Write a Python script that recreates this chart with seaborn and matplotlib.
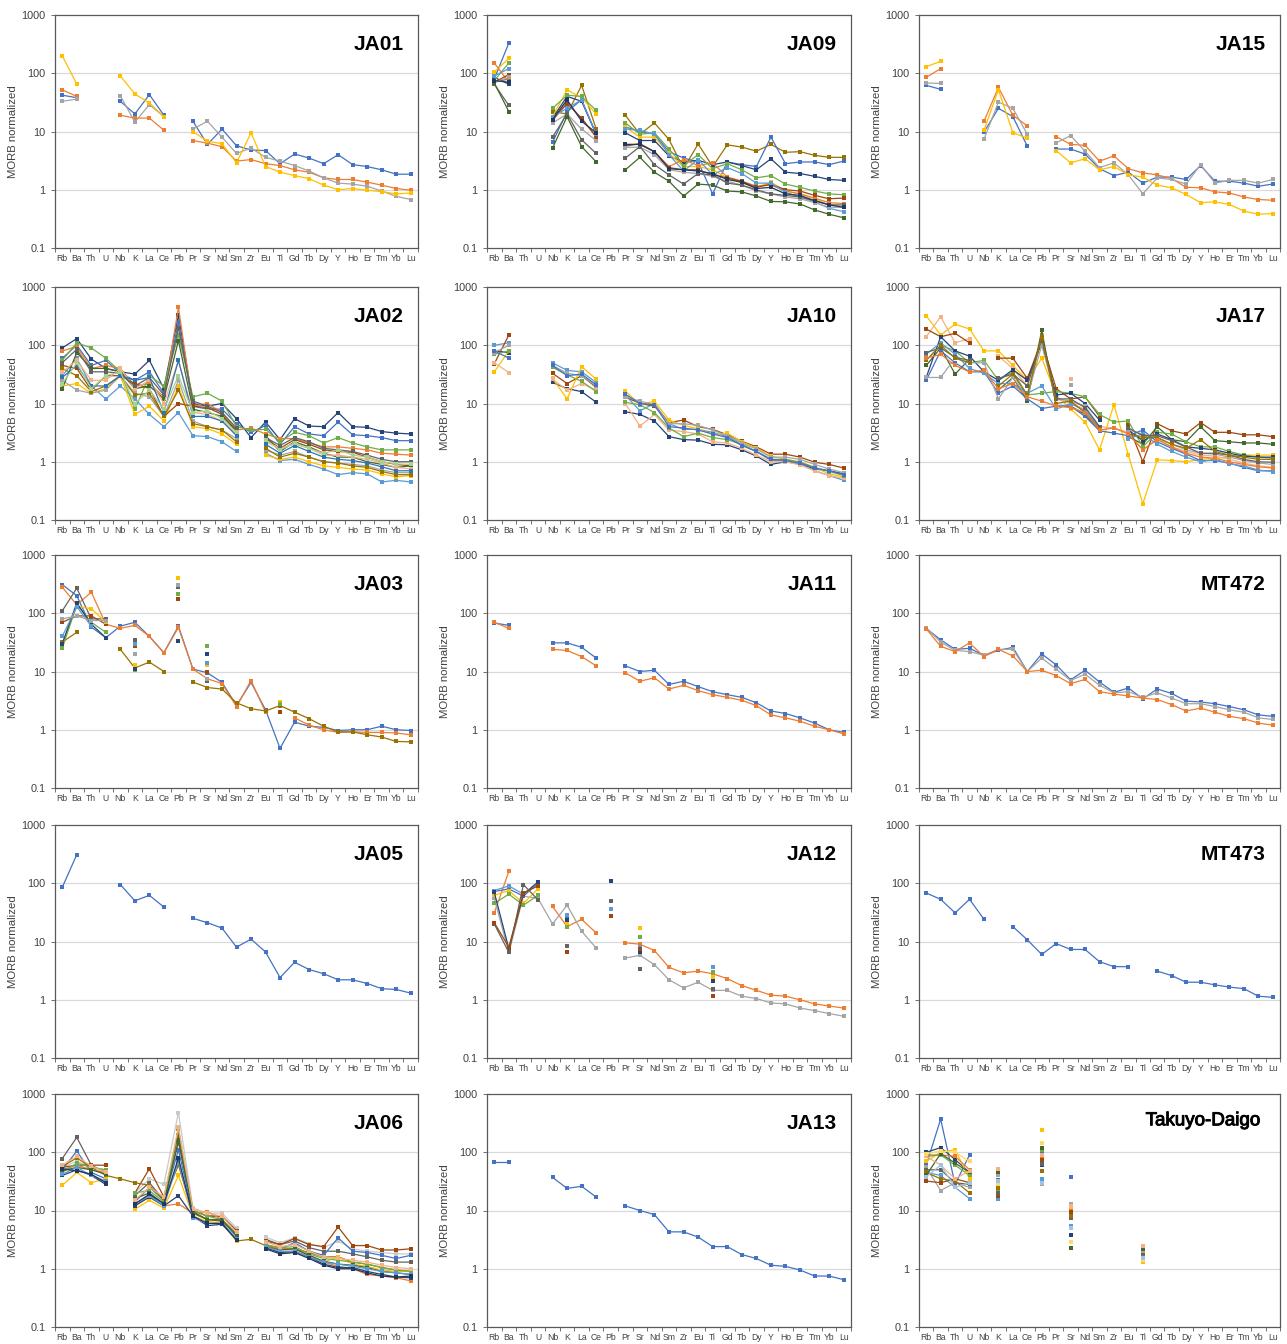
import numpy as np
import pandas as pd
import matplotlib
matplotlib.use("Agg")
import matplotlib.pyplot as plt
import matplotlib.patheffects as pe
import seaborn as sns
from matplotlib.ticker import FixedLocator, FixedFormatter, NullLocator

N = np.nan
ELEMENTS = ["Rb", "Ba", "Th", "U", "Nb", "K", "La", "Ce", "Pb", "Pr", "Sr", "Nd", "Sm",
            "Zr", "Eu", "Ti", "Gd", "Tb", "Dy", "Y", "Ho", "Er", "Tm", "Yb", "Lu"]

COLORS = {
    "blue": "#4472C4", "orange": "#ED7D31", "gray": "#A5A5A5", "gold": "#FFC000",
    "lblue": "#5B9BD5", "green": "#70AD47", "dblue": "#264478", "brown": "#9E480E",
    "dgray": "#636363", "dgold": "#997300", "dgreen": "#43682B", "lorange": "#F4B183",
    "lgray": "#C9C9C9", "navy": "#1F3864", "lgreen": "#A9D18E", "mblue": "#2E75B6",
    "lgold": "#FFD966", "lblue2": "#9DC3E6",
}

def iso(**kw):
    return [kw.get(e, N) for e in ELEMENTS]

# ---------------- JA01 ----------------
JA01 = [
    ("blue",   [42, 38, N, N, 33, 20, 43, 19, N, 15, 6, 11, 5.7, 4.8, 4.7, 2.8, 4.1, 3.5, 2.8, 4.0, 2.7, 2.5, 2.2, 1.85, 1.85]),
    ("orange", [52, 40, N, N, 19, 17, 17, 10.5, N, 7, 6.3, 5.5, 3.1, 3.3, 2.8, 2.6, 2.2, 2.0, 1.6, 1.5, 1.5, 1.35, 1.2, 1.05, 0.98]),
    ("gray",   [33, 36, N, N, 41, 14.5, 29, 18, N, 11, 15, 8, 4.2, 5.2, 3.6, 3.1, 2.6, 2.1, 1.6, 1.3, 1.25, 1.15, 0.95, 0.77, 0.68]),
    ("gold",   [200, 65, N, N, 90, 44, 31, 18, N, 10, 6.8, 6.2, 2.9, 9.5, 2.5, 2.0, 1.75, 1.55, 1.2, 1.0, 1.05, 0.98, 0.93, 0.85, 0.88]),
]

# ---------------- JA09 ----------------
JA09 = [
    ("dgold",  [70, 80, N, N, 22, 20, 62, 11, N, 19, 9, 14, 7.3, 2.3, 6.1, 2.5, 5.9, 5.4, 4.6, 6.0, 4.4, 4.5, 3.9, 3.6, 3.6]),
    ("blue",   [80, 330, N, N, 6.5, 22, 35, 9, N, 12, 10, 9, 4.5, 3.5, 3.0, 0.85, 3.0, 2.7, 2.5, 8.0, 2.8, 3.0, 3.0, 2.7, 3.1]),
    ("dblue",  [85, 65, N, N, 17, 40, 33, 9, N, 9.5, 7, 7, 3.8, 3.0, 3.2, 2.7, 3.0, 2.6, 2.2, 3.4, 2.0, 1.9, 1.7, 1.5, 1.45]),
    ("gold",   [105, 180, N, N, 18, 52, 38, 20, N, 12, 8, 8, 4.2, 2.5, 2.5, 2.2, 1.6, 1.3, 1.1, 1.35, 0.95, 0.85, 0.7, 0.55, 0.5]),
    ("green",  [75, 150, N, N, 25, 42, 40, 23, N, 14, 9, 9.5, 5.0, 2.6, 4.0, 2.3, 2.8, 2.2, 1.6, 1.75, 1.25, 1.1, 0.95, 0.85, 0.82]),
    ("orange", [150, 70, N, N, 15, 33, 16, 8.5, N, 6, 6, 4.5, 2.5, 3.3, 2.6, 2.9, 1.65, 1.4, 1.15, 1.2, 0.95, 0.85, 0.72, 0.6, 0.58]),
    ("brown",  [70, 95, N, N, 16, 30, 17, 8, N, 5.6, 6.2, 4.5, 2.4, 2.2, 2.2, 1.8, 1.6, 1.4, 1.1, 1.25, 1.0, 0.95, 0.8, 0.7, 0.72]),
    ("lblue",  [90, 120, N, N, 18, 25, 35, 9, N, 11, 10.5, 9, 4.0, 2.1, 3.3, 1.8, 2.4, 1.9, 1.3, 1.3, 0.9, 0.75, 0.62, 0.48, 0.42]),
    ("gray",   [70, 85, N, N, 14, 20, 11, 7, N, 5.3, 5.4, 4.0, 2.2, 2.0, 1.9, 1.7, 1.4, 1.2, 0.95, 0.85, 0.75, 0.7, 0.6, 0.5, 0.5]),
    ("dgray",  [65, 28, N, N, 8, 20, 7.2, 4.2, N, 3.5, 5.5, 2.7, 1.8, 1.25, 1.9, 1.8, 1.3, 1.2, 1.0, 0.85, 0.8, 0.75, 0.65, 0.55, 0.55]),
    ("dgreen", [68, 22, N, N, 5.2, 18, 5.5, 3.0, N, 2.2, 3.6, 2.0, 1.4, 0.78, 1.25, 1.2, 0.95, 0.92, 0.78, 0.63, 0.62, 0.57, 0.45, 0.38, 0.33]),
    ("navy",   [75, 70, N, N, 16, 35, 15, 9.5, N, 6, 6, 4.5, 2.3, 2.2, 2.1, 1.9, 1.5, 1.35, 1.05, 1.1, 0.85, 0.8, 0.65, 0.55, 0.5]),
]

# ---------------- JA15 ----------------
JA15 = [
    ("blue",   [62, 53, N, N, 9.8, 25, 18, 5.6, N, 5.0, 5.0, 4.1, 2.3, 1.75, 2.0, 1.3, 1.65, 1.65, 1.5, 2.6, 1.4, 1.4, 1.3, 1.15, 1.25]),
    ("orange", [85, 120, N, N, 15, 57, 19, 12.5, N, 8.2, 6, 5.8, 3.1, 3.8, 2.3, 1.95, 1.8, 1.55, 1.1, 1.08, 0.92, 0.88, 0.75, 0.68, 0.66]),
    ("gray",   [68, 67, N, N, 7.4, 32, 25, 9, N, 6.4, 8.5, 4.6, 2.4, 2.9, 1.8, 0.85, 1.6, 1.5, 1.25, 2.7, 1.3, 1.45, 1.45, 1.3, 1.5]),
    ("gold",   [130, 160, N, N, 10.5, 52, 9.5, 7.7, N, 4.7, 2.9, 3.4, 2.2, 2.5, 1.8, 1.65, 1.2, 1.08, 0.83, 0.6, 0.62, 0.56, 0.43, 0.38, 0.39]),
]

# ---------------- JA02 ----------------
JA02 = [
    ("dblue",   [90, 130, 58, 40, 35, 32, 55, 18, 330, 10, 9, 10, 5.5, 2.6, 4.8, 2.4, 5.5, 4.1, 4.0, 7.0, 4.0, 3.9, 3.3, 3.1, 3.0]),
    ("blue",    [60, 100, 45, 55, 33, 25, 35, 15, 250, 9, 8, 8, 4.5, 3.2, 4.2, 2.0, 4.0, 3.0, 2.8, 4.8, 2.9, 2.8, 2.6, 2.3, 2.3]),
    ("orange",  [80, 95, 40, 45, 40, 20, 22, 13, 450, 9, 10, 7, 3.5, 3.8, 3.0, 2.5, 2.5, 2.1, 1.8, 1.8, 1.7, 1.6, 1.4, 1.35, 1.3]),
    ("green",   [55, 110, 90, 60, 35, 8, 30, 20, 150, 13, 15, 11, 4.0, 3.5, 3.6, 2.2, 3.2, 2.8, 2.1, 2.6, 2.1, 1.8, 1.6, 1.6, 1.6]),
    ("lblue",   [30, 60, 20, 12, 20, 12, 6.5, 4, 7, 2.8, 2.7, 2.2, 1.5, N, 1.4, 1.05, 1.1, 0.9, 0.75, 0.6, 0.65, 0.62, 0.45, 0.48, 0.45]),
    ("gold",    [20, 22, 15, 18, 30, 6.5, 9, 5, 20, 4, 3.7, 3, 2.0, N, 1.3, 1.1, 1.2, 1.0, 0.85, 0.8, 0.75, 0.72, 0.62, 0.55, 0.58]),
    ("gray",    [25, 17, 15, 17, 30, 15, 13, 6, 25, 5, 4, 3.5, 2.5, N, 1.6, 1.3, 1.5, 1.2, 1.0, 0.95, 0.9, 0.85, 0.72, 0.65, 0.65]),
    ("brown",   [45, 40, 17, 30, 30, 22, 18, 6, 10, 9, 8.5, 6.5, 3.2, N, 2.5, 1.7, 2.4, 2.0, 1.6, 1.5, 1.45, 1.2, 1.0, 0.9, 0.85]),
    ("dgreen",  [18, 75, 40, 40, 35, 18, 20, 12, 120, 8, 7, 6, 3.5, N, 2.8, 1.5, 2.2, 1.8, 1.4, 1.2, 1.2, 1.0, 0.9, 0.8, 0.85]),
    ("dgold",   [40, 30, 16, 20, 30, 14, 15, 6, 17, 4.5, 4, 3.5, 2.2, N, 1.7, 1.2, 1.4, 1.2, 1.0, 0.95, 0.85, 0.8, 0.68, 0.6, 0.6]),
    ("lorange", [35, 55, 25, 25, 40, 18, 25, 10, 55, 7, 6.5, 5, 3.0, N, 2.2, 1.7, 2.0, 1.7, 1.3, 1.3, 1.2, 1.1, 0.95, 0.8, 0.75]),
    ("dgray",   [50, 85, 35, 35, 33, 20, 28, 14, 200, 11, 9, 7, 3.8, N, 2.6, 1.9, 2.6, 2.2, 1.7, 1.6, 1.5, 1.3, 1.1, 1.0, 1.0]),
    ("mblue",   [28, 45, 20, 20, 30, 25, 28, 7, 55, 6, 6, 5, 2.8, N, 2.0, 1.4, 1.9, 1.5, 1.2, 1.1, 1.05, 0.95, 0.82, 0.7, 0.7]),
    ("lgreen",  [22, 50, 18, 30, 35, 10, 17, 8, 30, 7, 7.5, 5.5, 3.2, N, 2.4, 1.6, 2.1, 1.7, 1.4, 1.6, 1.3, 1.2, 1.0, 0.92, 0.9]),
]

# ---------------- JA10 ----------------
JA10 = [
    ("dblue",   [80, 75, N, N, 23, 18, 16, 10.5, N, 7.2, 6.5, 5, 2.7, 2.4, 2.35, 2.0, 1.95, 1.6, 1.25, 0.9, 1.0, 0.92, 0.75, 0.7, 0.62]),
    ("lblue",   [100, 110, N, N, 50, 37, 35, 23, N, 14, 7.5, 10, 4.5, 3.6, 3.6, 3.2, 2.7, 2.0, 1.5, 1.05, 1.05, 0.92, 0.7, 0.58, 0.48]),
    ("brown",   [48, 150, N, N, 33, 22, 30, 19, N, 13, 10, 9, 4.7, 5.2, 4.0, 3.6, 2.9, 2.25, 1.8, 1.35, 1.35, 1.2, 0.98, 0.9, 0.78]),
    ("gold",    [35, 80, N, N, 27, 12, 43, 26, N, 16.5, 9.5, 11, 5.2, 4.2, 3.7, 2.9, 3.1, 2.2, 1.7, 1.25, 1.1, 1.0, 0.8, 0.62, 0.55]),
    ("lorange", [50, 34, N, N, 26, 17, 22, 17, N, 10, 4.1, 6.5, 3.5, 3.3, 3.0, 2.2, 2.1, 1.7, 1.3, 1.0, 1.0, 0.88, 0.7, 0.58, 0.52]),
    ("green",   [70, 80, N, N, 42, 31, 24, 16, N, 10.5, 9.5, 7, 3.8, 2.7, 3.1, 2.6, 2.4, 2.0, 1.5, 1.1, 1.1, 0.98, 0.8, 0.68, 0.58]),
    ("gray",    [75, 100, N, N, 45, 33, 30, 20, N, 13, 11, 9.5, 4.5, 4.5, 4.2, 3.5, 2.8, 2.1, 1.65, 1.2, 1.2, 1.1, 0.9, 0.75, 0.65]),
    ("blue",    [80, 60, N, N, 45, 30, 32, 21, N, 14.5, 10, 9.5, 4.0, 3.8, 3.5, 3.0, 2.6, 1.9, 1.5, 1.1, 1.05, 0.95, 0.78, 0.7, 0.6]),
]

# ---------------- JA17 ----------------
JA17 = [
    ("gold",    [320, 150, 230, 190, 80, 80, 45, 25, 60, 14, 8, 4.8, 1.6, 9.5, 1.3, 0.19, 1.08, 1.05, 1.0, 1.1, 1.15, 1.2, 1.3, 1.3, 1.3]),
    ("lorange", [140, 310, 110, 130, N, 65, 40, 20, 150, 12, 10, 8, 4, 3.8, 3.2, 1.6, 2.5, 1.8, 1.5, 1.3, 1.25, 1.1, 0.95, 0.85, 0.8]),
    ("brown",   [190, 140, 160, 110, N, 60, 60, 27, 120, 18, 12, 13, 6, N, 4.2, 1.0, 4.5, 3.4, 3.0, 4.7, 3.2, 3.2, 2.9, 2.9, 2.7]),
    ("dgreen",  [45, 90, 32, 58, N, 17, 28, 11, 180, 9, 9, 6.5, 3.5, N, 2.7, 2.0, 4.0, 2.4, 2.2, 4.0, 2.3, 2.2, 2.1, 2.1, 2.0]),
    ("green",   [55, 100, 80, 50, 55, 25, 35, 14, 15, 16, 15, 13, 6.5, 4.8, 5.0, 1.8, 3.2, 3.0, 2.2, 1.8, 1.8, 1.5, 1.3, 1.2, 1.15]),
    ("dblue",   [28, 140, 80, 65, 35, 25, 38, 25, 110, 14, 15, 10, 5.2, N, 3.5, 2.3, 3.0, 2.4, 1.8, 1.7, 1.6, 1.4, 1.25, 1.2, 1.2]),
    ("blue",    [25, 80, 50, 35, 35, 15, 20, 12, 8.2, 9, 9, 6, 3.4, 3.1, 2.8, 3.5, 2.2, 1.7, 1.35, 1.05, 1.05, 0.95, 0.8, 0.7, 0.7]),
    ("gray",    [28, 28, 60, 50, 50, 12, 28, 13, 100, 12, 11, 9, 4.0, N, 3.5, 3.0, 2.6, 2.0, 1.6, 1.4, 1.35, 1.2, 1.05, 0.95, 0.9]),
    ("lblue",   [70, 110, 70, 40, 33, 22, 22, 15, 20, 8, 10, 7.5, 3.8, N, 2.5, 3.0, 2.0, 1.5, 1.2, 1.0, 1.1, 0.92, 0.85, 0.72, 0.68]),
    ("dgray",   [75, 90, 62, 55, N, 27, 32, 20, 130, 12, 12, 8.5, 4.0, N, 3.8, 2.8, 2.8, 2.3, 1.8, 1.4, 1.4, 1.3, 1.1, 1.0, 0.98]),
    ("dgold",   [55, 100, 60, 50, N, 20, 32, 14, 140, 10, 11, 7, 3.6, N, 3.0, 2.6, 2.6, 2.0, 1.7, 2.4, 1.5, 1.3, 1.2, 1.1, 1.1]),
    ("orange",  [60, 70, 45, 35, 37, 18, 22, 13, 11, 9, 8.5, 7, 3.5, 3.8, 3.0, 1.6, 2.4, 1.8, 1.4, 1.2, 1.15, 1.0, 0.9, 0.82, 0.78]),
    ("lorange", iso(Sr=26)),
    ("gray",    iso(Sr=21)),
]

# ---------------- JA03 ----------------
JA03 = [
    ("blue",   [310, 200, 58, 38, 60, 70, 40, 21, 60, 11, 9.5, 6.5, 2.6, 6.5, 2.2, 0.48, 1.35, 1.15, 1.1, 0.97, 1.0, 1.0, 1.15, 1.0, 0.97]),
    ("orange", [280, 140, 230, 65, 55, 62, 40, 21, 57, 11, 7.5, 6.2, 2.5, 7.0, 2.0, N, 1.6, 1.2, 1.0, 0.9, 0.92, 0.9, 0.9, 0.88, 0.82]),
    ("dgold",  [32, 47, N, N, 24, 11.5, 14.5, 10, N, 6.6, 5.3, 5.0, 2.9, 2.3, 2.1, 2.6, 2.0, 1.55, 1.15, 0.92, 0.92, 0.82, 0.75, 0.63, 0.62]),
    ("dgray",  iso(Rb=110, Ba=270, Th=80, U=80, K=35, Pb=280, Sr=7)),
    ("brown",  iso(Rb=70, Ba=90, Th=90, U=65, K=27, Pb=175, Sr=10, Ti=2.0)),
    ("gold",   iso(Rb=30, Ba=130, Th=120, U=70, K=13, Pb=400, Sr=13, Ti=3.0)),
    ("green",  iso(Rb=25, Ba=140, Th=70, U=47, K=10.5, Pb=210, Sr=27, Ti=2.8)),
    ("dblue",  iso(Rb=30, Ba=150, Th=65, U=38, K=11, Pb=34, Sr=20)),
    ("lblue",  iso(Rb=40, Ba=130, Th=60, K=30, Sr=14)),
    ("gray",   iso(Rb=80, Ba=90, Th=75, U=75, K=20, Pb=300, Sr=7.5)),
]

# ---------------- JA11 ----------------
JA11 = [
    ("blue",   [68, 62, N, N, 31, 31, 26, 17, N, 12.5, 10, 10.5, 6, 6.8, 5.5, 4.5, 4.0, 3.6, 2.9, 2.1, 1.9, 1.6, 1.3, 1.0, 0.9]),
    ("orange", [70, 55, N, N, 24, 23, 18, 12.5, N, 9.5, 6.8, 7.8, 5, 5.8, 4.7, 4.0, 3.6, 3.2, 2.6, 1.8, 1.6, 1.4, 1.15, 1.0, 0.85]),
]

# ---------------- MT472 ----------------
MT472 = [
    ("blue",   [55, 35, 24, 25, 19, 23, 26, 10, 20, 13, 7.2, 10.5, 6.6, 4.4, 5.2, 3.4, 5.0, 4.2, 3.1, 3.0, 2.8, 2.5, 2.2, 1.8, 1.7]),
    ("gray",   [56, 32, 23, 22, 19, 24, 24, 10, 17, 11, 7, 9, 5.8, 4.3, 4.5, 3.6, 4.3, 3.5, 2.8, 2.8, 2.5, 2.2, 2.0, 1.6, 1.5]),
    ("orange", [54, 27, 22, 31, 18, 24, 18.5, 10, 10.5, 8.5, 6.2, 7.3, 4.5, 4.1, 3.8, 3.5, 3.3, 2.7, 2.1, 2.35, 2.0, 1.7, 1.55, 1.3, 1.2]),
]

# ---------------- JA05 ----------------
JA05 = [
    ("blue",   [85, 310, N, N, 95, 50, 62, 39, N, 25, 21, 17, 8, 11, 6.6, 2.4, 4.4, 3.3, 2.8, 2.2, 2.2, 1.9, 1.55, 1.5, 1.3]),
]

# ---------------- JA12 ----------------
JA12 = [
    ("orange", [31, 160, N, N, 40, 18, 24, 14, N, 9.5, 9, 7, 3.6, 2.9, 3.1, 2.8, 2.3, 1.75, 1.45, 1.2, 1.15, 1.0, 0.85, 0.78, 0.72]),
    ("gray",   [55, 6.5, 60, 55, 20, 42, 15, 7.7, N, 5.2, 5.8, 4.0, 2.2, 1.6, 2.0, 1.45, 1.45, 1.15, 1.05, 0.88, 0.85, 0.72, 0.65, 0.58, 0.52]),
    ("blue",   iso(Rb=72, Ba=80, Th=60, U=100, K=25, Sr=8, Ti=2.3)),
    ("lblue",  iso(Rb=75, Ba=90, Th=65, U=95, K=29, Pb=36, Sr=8, Ti=3.6)),
    ("gold",   iso(Rb=62, Ba=75, Th=45, U=80, K=20, Sr=17, Ti=2.5)),
    ("green",  iso(Rb=45, Ba=65, Th=42, U=62, K=18, Sr=12, Ti=3.0)),
    ("dblue",  iso(Rb=70, Ba=7.5, Th=65, U=105, K=23, Pb=110, Sr=6.5, Ti=2.1)),
    ("dgray",  iso(Rb=20, Ba=6.5, Th=95, U=52, K=8.5, Pb=50, Sr=3.4, Ti=1.5)),
    ("brown",  iso(Rb=21, Ba=8, Th=68, U=90, K=6.5, Pb=27, Sr=7.5, Ti=1.15)),
]

# ---------------- MT473 ----------------
MT473 = [
    ("blue",   [68, 53, 31, 53, 24, N, 18, 10.7, 6, 9.2, 7.3, 7.3, 4.5, 3.7, 3.7, N, 3.1, 2.6, 2.0, 2.0, 1.8, 1.65, 1.55, 1.15, 1.1]),
]

# ---------------- JA06 ----------------
JA06 = [
    ("dgray",   [78, 180, 60, 45, N, 18, 30, 15, 150, 10, 8, 8, 4.5, N, 3.2, 2.6, 3.0, 2.3, 2.0, 2.0, 1.8, 1.6, 1.4, 1.3, 1.3]),
    ("lgray",   [55, 70, 55, 50, N, 20, 35, 28, 480, 11, 9, 9, 5, N, 3.5, 2.8, 3.4, 2.7, 2.3, 3.0, 2.2, 2.0, 1.9, 1.8, 1.8]),
    ("brown",   [55, 60, 60, 60, N, 20, 52, 17, 200, 10, 8, 8, 4.5, N, 3.0, 2.6, 3.3, 2.6, 2.4, 5.2, 2.5, 2.5, 2.1, 2.1, 2.2]),
    ("blue",    [50, 105, 45, 35, N, 14, 25, 15, 110, 9, 7, 7, 3.5, N, 2.6, 2.2, 2.8, 2.0, 1.7, 3.4, 2.0, 1.9, 1.7, 1.5, 1.7]),
    ("dgold",   [57, 80, 55, 40, 35, 30, 27, 15, 60, 9, 7, 6.5, 3.0, 3.2, 2.5, 2.2, 2.2, 1.9, 1.6, 1.6, 1.3, 1.2, 1.05, 0.95, 0.9]),
    ("gold",    [27, 45, 30, 35, N, 10.5, 15, 11, 40, 8, 6.5, 6, 3.0, N, 2.3, 1.9, 1.9, 1.6, 1.3, 1.6, 1.2, 1.1, 0.95, 0.9, 0.9]),
    ("orange",  [50, 60, 50, 45, N, 12, 18, 12, 13, 9, 9.5, 7, 4, N, 2.5, 2.2, 2.2, 1.7, 1.3, 1.1, 1.0, 0.8, 0.75, 0.7, 0.62]),
    ("dblue",   [40, 50, 40, 28, N, 12, 17, 12, 18, 8, 5.5, 5.8, 3.2, N, 2.3, 1.9, 2.0, 1.6, 1.2, 1.05, 1.05, 0.9, 0.8, 0.72, 0.7]),
    ("green",   [45, 65, 55, 50, N, 20, 22, 14, 250, 10, 8, 7, 4, N, 2.6, 2.3, 2.4, 1.8, 1.5, 1.4, 1.3, 1.2, 1.05, 0.95, 0.9]),
    ("dgreen",  [48, 55, 50, 42, N, 16, 20, 13, 160, 9.5, 7, 6.8, 3.8, N, 2.4, 2.1, 2.2, 1.7, 1.35, 1.2, 1.15, 1.05, 0.9, 0.85, 0.8]),
    ("lblue",   [42, 55, 40, 32, N, 13, 18, 12, 70, 7.5, 6, 6, 3.3, N, 2.4, 2.0, 2.0, 1.6, 1.3, 1.2, 1.1, 1.0, 0.9, 0.85, 0.8]),
    ("lorange", [60, 85, 58, 45, N, 15, 25, 17, 270, 10.5, 9, 8, 4.2, N, 2.9, 2.4, 2.6, 2.0, 1.6, 1.5, 1.4, 1.3, 1.15, 1.05, 1.0]),
    ("navy",    [52, 48, 42, 30, N, 13, 19, 13, 80, 8, 6, 6, 3.1, N, 2.2, 1.8, 1.9, 1.5, 1.15, 1.0, 1.0, 0.85, 0.75, 0.72, 0.75]),
]

# ---------------- JA13 ----------------
JA13 = [
    ("blue",   [68, 68, N, N, 37, 24, 26, 17, N, 12, 10, 8.5, 4.3, 4.3, 3.5, 2.4, 2.4, 1.75, 1.5, 1.15, 1.1, 0.95, 0.75, 0.75, 0.65]),
]

# ---------------- Takuyo-Daigo ----------------
TAKUYO = [
    ("blue",    iso(Rb=60, Ba=370, Th=28, U=90, K=34, Pb=100, Sr=38, Ti=1.8)),
    ("dblue",   iso(Rb=100, Ba=120, Th=75, U=45, K=30, Pb=60, Sr=3.8, Ti=1.6)),
    ("gold",    iso(Rb=70, Ba=100, Th=110, U=35, K=25, Pb=240, Sr=11, Ti=1.3)),
    ("orange",  iso(Rb=90, Ba=90, Th=85, U=50, K=50, Pb=80, Sr=10, Ti=2.4)),
    ("green",   iso(Rb=85, Ba=90, Th=60, U=40, K=22, Pb=110, Sr=9, Ti=2.1)),
    ("lblue",   iso(Rb=45, Ba=40, Th=25, U=16, K=15.5, Pb=35, Sr=5.5, Ti=1.5)),
    ("gray",    iso(Rb=55, Ba=22, Th=30, U=25, K=40, Pb=28, Sr=13, Ti=1.9)),
    ("brown",   iso(Rb=32, Ba=30, Th=35, U=30, K=18, Pb=75, Sr=9.5, Ti=2.3)),
    ("dgray",   iso(Rb=50, Ba=50, Th=30, U=28, K=20, Pb=62, Sr=7.5, Ti=1.7)),
    ("dgold",   iso(Rb=45, Ba=35, Th=32, U=20, K=24, Pb=47, Sr=8, Ti=1.6)),
    ("dgreen",  iso(Rb=40, Ba=95, Th=65, U=45, K=45, Pb=120, Sr=2.3, Ti=2.2)),
    ("lorange", iso(Rb=85, Ba=60, Th=35, U=48, K=52, Pb=90, Sr=12, Ti=2.5)),
    ("lgold",   iso(Rb=95, Ba=105, Th=100, U=70, K=28, Pb=145, Sr=2.9, Ti=1.4)),
    ("lblue2",  iso(Rb=38, Ba=60, Th=25, U=30, K=32, Pb=30, Sr=5, Ti=1.5)),
]

PANELS = [
    ("JA01", JA01), ("JA09", JA09), ("JA15", JA15),
    ("JA02", JA02), ("JA10", JA10), ("JA17", JA17),
    ("JA03", JA03), ("JA11", JA11), ("MT472", MT472),
    ("JA05", JA05), ("JA12", JA12), ("MT473", MT473),
    ("JA06", JA06), ("JA13", JA13), ("Takuyo-Daigo", TAKUYO),
]

# ---------------- style ----------------
sns.set_theme(style="white")
plt.rcParams["font.family"] = ["Liberation Sans", "DejaVu Sans"]

W, H = 1287, 1344
fig = plt.figure(figsize=(W / 100, H / 100), dpi=100)
fig.patch.set_facecolor("white")

LEFTS = [55, 487, 919]
WIDTHS = [363, 364, 361]
TOPS = [15, 287, 555, 825, 1094]
HEIGHT = 233
FRAME = "#595959"
TXT = "#404040"


def to_long(series):
    rows = []
    for si, (cname, vals) in enumerate(series):
        seg = 0
        prev = False
        for xi, v in enumerate(vals):
            if v is None or (isinstance(v, float) and np.isnan(v)):
                prev = False
                continue
            if not prev:
                seg += 1
            prev = True
            rows.append({"x": xi, "y": float(v), "sid": f"s{si}",
                         "seg": f"s{si}_{seg}"})
    df = pd.DataFrame(rows)
    pal = {f"s{si}": COLORS[c] for si, (c, _) in enumerate(series)}
    return df, pal


for idx, (name, series) in enumerate(PANELS):
    r, c = divmod(idx, 3)
    l = LEFTS[c] / W
    b = 1 - (TOPS[r] + HEIGHT) / H
    ax = fig.add_axes([l, b, WIDTHS[c] / W, HEIGHT / H])
    ax.set_yscale("log")
    ax.set_facecolor("white")
    for yv in [1, 10, 100]:
        ax.axhline(yv, color="#D9D9D9", lw=0.9, zorder=0)

    df, pal = to_long(series)
    sns.lineplot(data=df, x="x", y="y", hue="sid", units="seg", estimator=None,
                 palette=pal, hue_order=list(pal.keys()), marker="s", markersize=3.0,
                 markeredgewidth=0, linewidth=0.9, legend=False, sort=False, ax=ax)

    ax.set_xlim(-0.5, 24.5)
    ax.set_ylim(0.1, 1000)
    ax.yaxis.set_major_locator(FixedLocator([0.1, 1, 10, 100, 1000]))
    ax.yaxis.set_major_formatter(FixedFormatter(["0.1", "1", "10", "100", "1000"]))
    ax.yaxis.set_minor_locator(NullLocator())
    ax.set_xticks(range(len(ELEMENTS)))
    ax.set_xticklabels(ELEMENTS, fontsize=6.2, color=TXT)
    ax.set_xticks(np.arange(-0.5, 25, 1), minor=True)
    ax.tick_params(axis="x", which="major", length=0, pad=4)
    ax.tick_params(axis="x", which="minor", length=3, width=0.6, color=FRAME,
                   direction="out", bottom=True)
    ax.tick_params(axis="y", which="major", labelsize=7.8, labelcolor=TXT,
                   length=3, width=0.6, color=FRAME, direction="out", left=True, pad=4)
    ax.set_xlabel("")
    ax.set_ylabel("MORB normalized", fontsize=8.2, color=TXT, labelpad=2)
    for sp in ax.spines.values():
        sp.set_color(FRAME)
        sp.set_linewidth(0.9)
        sp.set_visible(True)

    if name == "Takuyo-Daigo":
        ax.text(0.945, 0.885, name, transform=ax.transAxes, ha="right", va="center",
                fontsize=13.5, color="black",
                path_effects=[pe.withStroke(linewidth=0.7, foreground="black")])
    else:
        ax.text(0.96, 0.875, name, transform=ax.transAxes, ha="right", va="center",
                fontsize=15, fontweight="bold", color="black")

fig.savefig("out.png", dpi=100, facecolor="white")
